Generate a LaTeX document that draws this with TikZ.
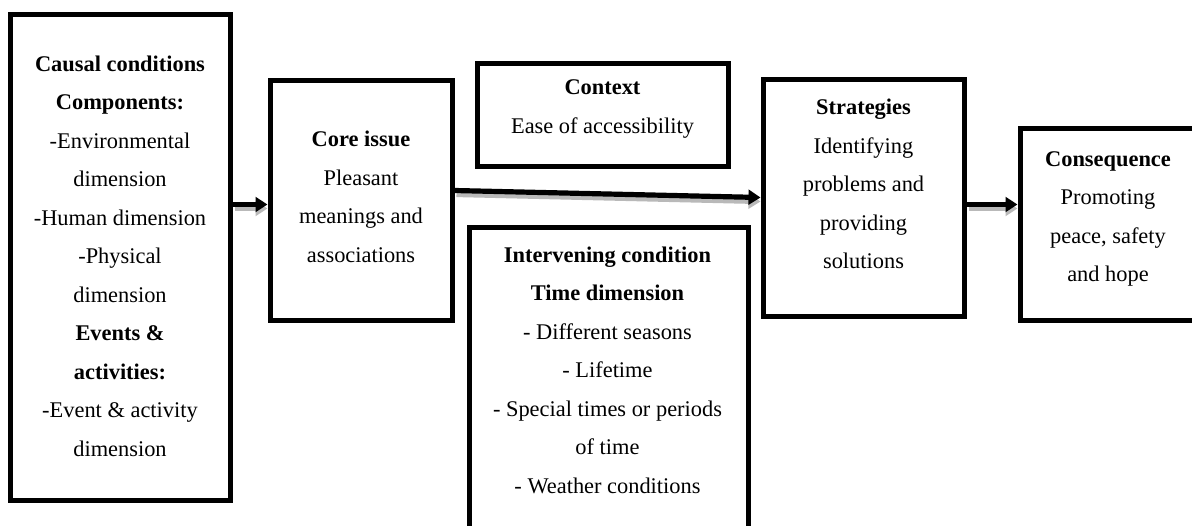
\documentclass[tikz,border=0pt]{standalone}
\usepackage{fontspec}
\setmainfont{Liberation Serif}
\usetikzlibrary{arrows.meta,calc}
\begin{document}
\begin{tikzpicture}[x=0.75pt,y=-0.75pt,
  box/.style={draw=black,line width=3.75pt,rectangle,inner sep=0pt,fill=none},
  txt/.style={align=center,inner sep=0pt,font=\fontsize{16.8}{28.9}\selectfont},
  arr/.style={line width=3.9pt,-{Triangle[length=9pt,width=11pt]}},
  arrshadow/.style={line width=3.9pt,draw=gray!55,-{Triangle[length=9pt,width=11pt]}}]
\useasboundingbox (0,0) rectangle (1192,525);
\clip (0,0) rectangle (1192,525);
% boxes
\node[box,minimum width=165pt,minimum height=364.5pt] (causal) at (120,257) {};
\node[box,minimum width=136.5pt,minimum height=180pt] (core) at (361,200) {};
\node[box,minimum width=188.25pt,minimum height=77.25pt] (context) at (602.5,114.5) {};
\node[box,minimum width=150.75pt,minimum height=177.75pt] (strat) at (863.5,197.5) {};
\node[box,minimum width=135pt,minimum height=144pt] (cons) at (1110,224) {};
\node[box,minimum width=209.25pt,minimum height=234.75pt] (interv) at (608.5,383.5) {};
% texts
\node[txt] (tcausal) at (120,256) {\textbf{Causal conditions}\\\textbf{Components:}\\-Environmental\\dimension\\-Human dimension\\-Physical\\dimension\\\textbf{Events \&}\\\textbf{activities:}\\-Event \& activity\\dimension};
\node[txt] (tcore) at (361,197) {\textbf{Core issue}\\Pleasant\\meanings and\\associations};
\node[txt] (tcontext) at (602.5,109) {\textbf{Context}\\Ease of accessibility};
\node[txt] (tstrat) at (863.5,184) {\textbf{Strategies}\\Identifying\\problems and\\providing\\solutions};
\node[txt] (tcons) at (1108,219) {\textbf{Consequence}\\Promoting\\peace, safety\\and hope};
\node[txt] (tinterv) at (607.5,370) {\textbf{Intervening condition}\\\textbf{Time dimension}\\- Different seasons\\- Lifetime\\- Special times or periods\\of time\\- Weather conditions};
% named arrow ends
\coordinate (a1s) at ($(causal.north east)+(0,193)$);
\coordinate (a1e) at ($(core.north west)+(0,127)$);
\coordinate (a2s) at ($(core.north east)+(0,113)$);
\coordinate (a2e) at ($(strat.north west)+(0,121)$);
\coordinate (a3s) at ($(strat.north east)+(0,128)$);
\coordinate (a3e) at ($(cons.north west)+(0,79)$);
% shadows
\draw[arrshadow] ($(a1s)+(2,4)$) -- ($(a1e)+(0,4)$);
\draw[arrshadow] ($(a2s)+(2,4)$) -- ($(a2e)+(0,4)$);
\draw[arrshadow] ($(a3s)+(2,4)$) -- ($(a3e)+(0,4)$);
% arrows
\draw[arr] (a1s) -- (a1e);
\draw[arr] (a2s) -- (a2e);
\draw[arr] (a3s) -- (a3e);
\end{tikzpicture}
\end{document}
